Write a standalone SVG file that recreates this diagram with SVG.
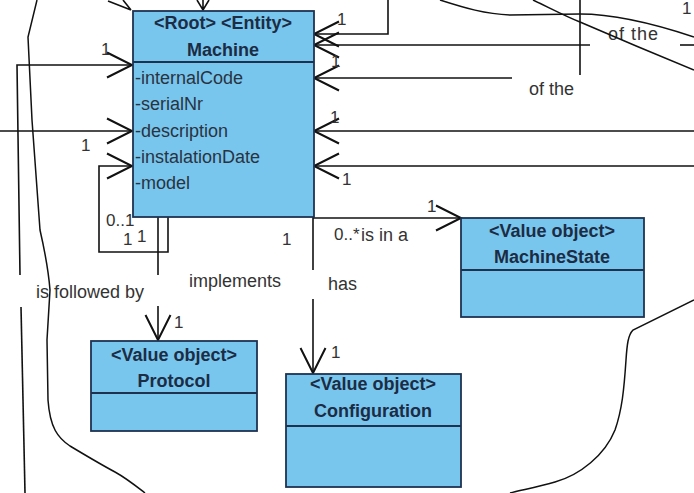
<svg xmlns="http://www.w3.org/2000/svg" width="694" height="493" viewBox="0 0 694 493">
<style>
.box{fill:#78c6ee;stroke:#1e3250;stroke-width:1.8}
.div{stroke:#1e3250;stroke-width:1.8}
.hd{font-family:"Liberation Sans",Arial,sans-serif;font-size:18px;font-weight:bold;fill:#1c2c44;text-anchor:middle}
.at{font-family:"Liberation Sans",Arial,sans-serif;font-size:18px;fill:#2a3340}
.lb{font-family:"Liberation Sans",Arial,sans-serif;font-size:18px;fill:#333}
.mu{font-family:"Liberation Sans",Arial,sans-serif;font-size:17px;fill:#333}
.ln{fill:none;stroke:#111;stroke-width:1.6}
.fr{fill:none;stroke:#111;stroke-width:1.5}
</style>
<defs>
<marker id="oa" markerUnits="userSpaceOnUse" markerWidth="30" markerHeight="30" refX="0" refY="0" viewBox="-22 -12 24 24" orient="auto" overflow="visible">
<path d="M-20,-10 L0,0 L-20,10" fill="none" stroke="#111" stroke-width="1.6"/>
</marker>
</defs>
<rect width="694" height="493" fill="#fff"/>

<g id="connectors">
<path class="ln" d="M108,1 L131,10 M123,0 L131,10"/>
<path class="ln" d="M197,0 L203,10 L209,0 M203,0 L203,10"/>
<path class="ln" d="M388,0 L388,34 L314,34" marker-end="url(#oa)"/>
<path class="ln" d="M590,45 L314,45" marker-end="url(#oa)"/>
<path class="ln" d="M680,45 L694,45"/>
<path class="ln" d="M580,0 L580,75"/>
<path class="ln" d="M512,78 L314,78" marker-end="url(#oa)"/>
<path class="ln" d="M694,131 L314,131" marker-end="url(#oa)"/>
<path class="ln" d="M694,166 L314,166" marker-end="url(#oa)"/>
<path class="ln" d="M0,131 L132,131" marker-end="url(#oa)"/>
<path class="ln" d="M20,275 L17,65 L132,65" marker-end="url(#oa)"/>
<path class="ln" d="M21,307 L25,493"/>
<path class="ln" d="M168,217 L168,252 L99,252 L99,166 L132,166" marker-end="url(#oa)"/>
<path class="ln" d="M158,217 L158,275"/>
<path class="ln" d="M158,306 L158,340" marker-end="url(#oa)"/>
<path class="ln" d="M313,217 L313,270"/>
<path class="ln" d="M313,299 L313,373" marker-end="url(#oa)"/>
<path class="ln" d="M313,218 L461,218" marker-end="url(#oa)"/>
</g>

<g id="machine">
<rect class="box" x="133" y="11" width="181" height="206"/>
<line class="div" x1="133" y1="62" x2="314" y2="62"/>
<text class="hd" x="223" y="29">&lt;Root&gt; &lt;Entity&gt;</text>
<text class="hd" x="223" y="56">Machine</text>
<text class="at" x="135" y="84">-internalCode</text>
<text class="at" x="135" y="110">-serialNr</text>
<text class="at" x="135" y="137">-description</text>
<text class="at" x="135" y="163">-instalationDate</text>
<text class="at" x="135" y="189">-model</text>
</g>

<g id="machinestate">
<rect class="box" x="461" y="218" width="183" height="99"/>
<line class="div" x1="461" y1="270" x2="644" y2="270"/>
<text class="hd" x="552" y="237">&lt;Value object&gt;</text>
<text class="hd" x="552" y="263">MachineState</text>
</g>

<g id="protocol">
<rect class="box" x="91" y="341" width="166" height="90"/>
<line class="div" x1="91" y1="393" x2="257" y2="393"/>
<text class="hd" x="174" y="361">&lt;Value object&gt;</text>
<text class="hd" x="174" y="387">Protocol</text>
</g>

<g id="configuration">
<rect class="box" x="286" y="374" width="175" height="113"/>
<line class="div" x1="286" y1="426" x2="461" y2="426"/>
<text class="hd" x="373" y="390">&lt;Value object&gt;</text>
<text class="hd" x="373" y="417">Configuration</text>
</g>

<g id="labels">
<text class="mu" x="101" y="55">1</text>
<text class="mu" x="81" y="151">1</text>
<text class="mu" x="337" y="25">1</text>
<text class="mu" x="331" y="67">1</text>
<text class="mu" x="330" y="123">1</text>
<text class="mu" x="342" y="185">1</text>
<text class="mu" x="682" y="14">1</text>
<text class="mu" x="427" y="212">1</text>
<text class="mu" x="334" y="240">0..*</text>
<text class="mu" x="282" y="245">1</text>
<text class="mu" x="174" y="328">1</text>
<text class="mu" x="331" y="358">1</text>
<text class="mu" x="106" y="226">0..1</text>
<text class="mu" x="123" y="245">1</text>
<text class="mu" x="137" y="242">1</text>
<text class="lb" x="36" y="298">is followed by</text>
<text class="lb" x="189" y="287">implements</text>
<text class="lb" x="328" y="290">has</text>
<text class="lb" x="361" y="241">is in a</text>
<text class="lb" x="608" y="40" textLength="50" lengthAdjust="spacing">of the</text>
<text class="lb" x="529" y="95">of the</text>
</g>

<g id="freehand">
<path class="fr" d="M37,0 L28,37 L32,120 L40,230 Q48,265 50,290 L47,340 L48,400 C50,428 58,438 70,446 C85,455 100,464 115,472 C126,478 136,486 145,493"/>
<path class="fr" d="M440,0 C465,8 485,14 510,15 L580,14 C615,14 655,24 694,37"/>
<path class="fr" d="M533,0 C550,8 565,16 580,22 C610,35 650,52 694,70"/>
<path class="fr" d="M694,300 L633,330 C628,335 627,345 626,360 C624,390 622,410 615,430 C605,455 580,475 555,482 C535,488 520,490 510,493"/>
</g>
</svg>
